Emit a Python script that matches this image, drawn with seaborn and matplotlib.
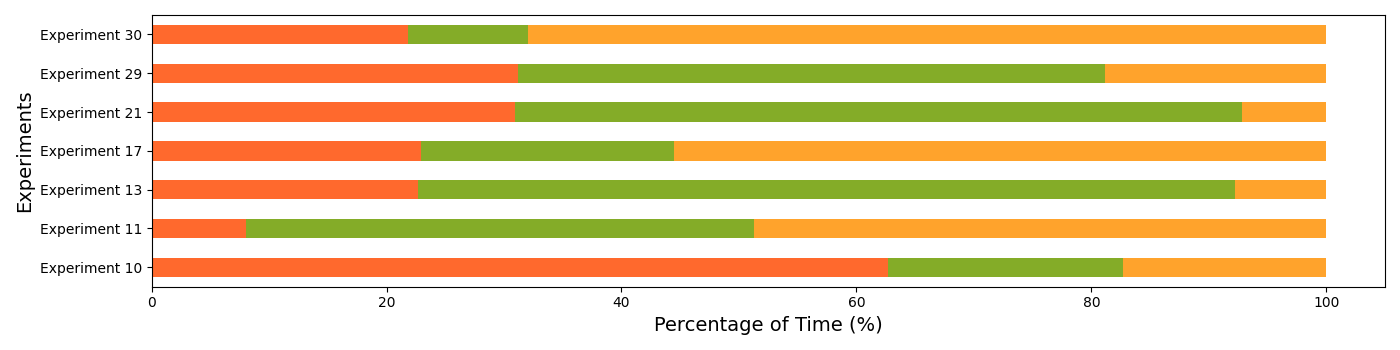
import pandas as pd
import numpy as np
import matplotlib
matplotlib.use("Agg")
import matplotlib.pyplot as plt
import seaborn as sns

# Datos (porcentaje de tiempo por fase)
experimentos = ["Experiment 30", "Experiment 29", "Experiment 21", "Experiment 17",
                "Experiment 13", "Experiment 11", "Experiment 10"]
fase_1 = [21.8, 31.2, 30.9, 22.9, 22.7, 8.0, 62.7]
fase_2 = [10.2, 50.0, 61.9, 21.6, 69.5, 43.3, 20.0]
fase_3 = [68.0, 18.8, 7.2, 55.5, 7.8, 48.7, 17.3]

colores = ["#FF692D", "#84AC28", "#FFA32C"]

df = pd.DataFrame({"exp": experimentos, "f1": fase_1, "f2": fase_2, "f3": fase_3})
# acumulados para apilar
df["c1"] = df["f1"]
df["c2"] = df["f1"] + df["f2"]
df["c3"] = df["f1"] + df["f2"] + df["f3"]

fig, ax = plt.subplots(figsize=(14, 3.5), dpi=100)

# se dibuja del total hacia el primero para simular barras apiladas
sns.barplot(data=df, x="c3", y="exp", order=experimentos, color=colores[2],
            width=0.5, saturation=1, ax=ax)
sns.barplot(data=df, x="c2", y="exp", order=experimentos, color=colores[1],
            width=0.5, saturation=1, ax=ax)
sns.barplot(data=df, x="c1", y="exp", order=experimentos, color=colores[0],
            width=0.5, saturation=1, ax=ax)

ax.set_xlim(0, 105)
ax.set_ylim(6.5, -0.5)
ax.set_xlabel("Percentage of Time (%)", fontsize=14)
ax.set_ylabel("Experiments", fontsize=14)

plt.tight_layout()
plt.savefig("out.png")
